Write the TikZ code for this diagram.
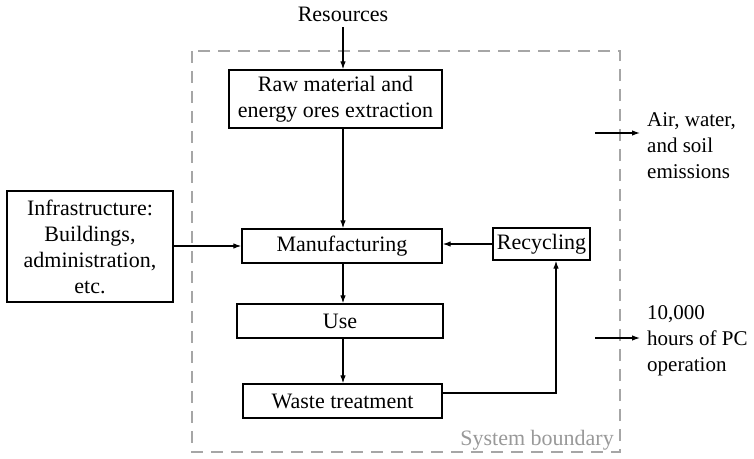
\documentclass[tikz,border=0pt]{standalone}
\usepackage{fontspec}
\setmainfont{Liberation Serif}
\usetikzlibrary{arrows.meta}

\begin{document}
\begin{tikzpicture}[x=1pt,y=-1pt,
  every node/.style={font=\fontsize{22}{26}\selectfont},
  box/.style={draw,line width=1.3pt,align=center,inner sep=0pt},
  flow/.style={line width=1.2pt,-{Latex[length=8pt,width=5.5pt]}},
  boundary/.style={draw=gray!70,line width=2.8pt,dash pattern=on 12pt off 8pt},
  plain/.style={align=left,inner sep=0pt,font=\fontsize{21}{26}\selectfont}]
  \useasboundingbox (0,0) rectangle (754,458);
  % System boundary
  \draw[boundary] (192,51) rectangle (620,452);
  \node[anchor=base east,inner sep=0pt,text=gray!80] (sysb) at (614,445) {System boundary};
  % Boxes
  \node[anchor=base,inner sep=0pt] (res) at (343,21) {Resources};
  \node[box,minimum width=213pt,minimum height=58pt] (raw) at (335.5,99)
    {Raw material and\\energy ores extraction};
  \node[box,minimum width=200pt,minimum height=34pt] (mfg) at (342,246) {Manufacturing};
  \node[box,minimum width=97pt,minimum height=32pt] (rec) at (541.5,244) {Recycling};
  \node[box,minimum width=206pt,minimum height=34pt] (use) at (340,321) {Use};
  \node[box,minimum width=199pt,minimum height=34pt] (waste) at (342.5,401) {Waste treatment};
  \node[box,minimum width=166pt,minimum height=111pt] (infra) at (90,246.5)
    {Infrastructure:\\Buildings,\\administration,\\etc.};
  % Outputs
  \node[plain,anchor=north west] (air) at (647,112) {Air, water,\\and soil\\emissions};
  \node[plain,anchor=north west] (pc) at (647,305) {10,000\\hours of PC\\operation};
  \coordinate (airin) at (595,133);
  \coordinate (pcin) at (595,338);
  % Arrows
  \draw[flow] ([yshift=-6pt]res.base) -- (res.base |- raw.north);
  \draw[flow] (raw.south -| res.base) -- (mfg.north -| res.base);
  \draw[flow] (mfg.south -| res.base) -- (use.north -| res.base);
  \draw[flow] (use.south -| res.base) -- (waste.north -| res.base);
  \draw[flow] (infra.east |- mfg.west) -- (mfg.west);
  \draw[flow] (rec.west) -- (rec.west -| mfg.east);
  \draw[flow] ([yshift=8pt]waste.east) -| ([xshift=14.5pt]rec.south);
  \draw[flow] (airin) -- ++(45,0);
  \draw[flow] (pcin) -- ++(45,0);
\end{tikzpicture}
\end{document}
